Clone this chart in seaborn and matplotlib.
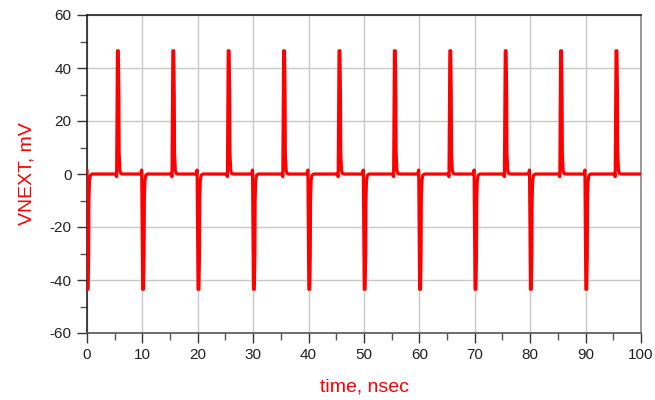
import numpy as np
import pandas as pd
import matplotlib
matplotlib.use("Agg")
import matplotlib.pyplot as plt
import seaborn as sns
from matplotlib.ticker import MultipleLocator

# Edge times (nsec)
fall_times = [0, 10, 20, 30, 40, 50, 60, 70, 80, 90]
rise_times = [5.5, 15.5, 25.5, 35.5, 45.5, 55.5, 65.5, 75.5, 85.5, 95.5]

# Pulse shapes (offset in nsec, value in mV)
fall_offsets = [-0.3, -0.12, 0.05, 0.2, 0.3, 0.35, 0.45, 0.6, 0.9]
fall_values = [0.0, 1.5, -43.5, -43.5, -31.0, -10.0, -2.5, -0.6, 0.0]
rise_offsets = [-0.35, -0.15, 0.0, 0.15, 0.25, 0.3, 0.45, 0.6, 0.9]
rise_values = [0.0, -1.0, 46.5, 46.5, 30.0, 8.0, 1.2, 0.3, 0.0]

t_end = 100

t_parts = [[0.0]]
v_parts = [[1.5]]
events = sorted([(t, "f") for t in fall_times] + [(t, "r") for t in rise_times])
for t0, kind in events:
    offs, vals = (fall_offsets, fall_values) if kind == "f" else (rise_offsets, rise_values)
    for o, v in zip(offs, vals):
        if t0 + o >= 0:
            t_parts.append([t0 + o])
            v_parts.append([v])
t_parts.append([t_end])
v_parts.append([0.0])
time = np.concatenate(t_parts)
vnext = np.concatenate(v_parts)
df = pd.DataFrame({"time": time, "VNEXT": vnext})

sns.set_style("white")
plt.rcParams["font.family"] = ["Liberation Sans", "DejaVu Sans"]
plt.rcParams["axes.unicode_minus"] = False

fig = plt.figure(figsize=(6.55, 4.0), dpi=100)
ax = fig.add_axes([0.1328, 0.1675, 0.8458, 0.795])

sns.lineplot(data=df, x="time", y="VNEXT", ax=ax, color="#ff0000",
             linewidth=2.3, sort=False, estimator=None, zorder=3)

ax.set_xlim(0, 100)
ax.set_ylim(-60, 60)
ax.xaxis.set_major_locator(MultipleLocator(10))
ax.xaxis.set_minor_locator(MultipleLocator(5))
ax.yaxis.set_major_locator(MultipleLocator(20))
ax.yaxis.set_minor_locator(MultipleLocator(10))
ax.grid(True, which="major", color="#c8c8c8", linewidth=1.0, zorder=0)

ax.tick_params(axis="both", which="major", direction="out", length=7, width=1.0,
               color="#333333", labelsize=11, labelcolor="#222222", pad=4)
ax.tick_params(axis="both", which="minor", direction="out", length=5, width=1.0,
               color="#555555")
ax.tick_params(axis="x", which="both", bottom=True)
ax.tick_params(axis="y", which="both", left=True)

for s in ["left", "top"]:
    ax.spines[s].set_color("#222222")
    ax.spines[s].set_linewidth(1.2)
ax.spines["bottom"].set_color("#555555")
ax.spines["bottom"].set_linewidth(1.2)
ax.spines["right"].set_color("#888888")
ax.spines["right"].set_linewidth(1.2)

ax.set_xlabel("time, nsec", color="#ff0000", fontsize=14, labelpad=12)
ax.set_ylabel("VNEXT, mV", color="#ff0000", fontsize=14, labelpad=10)

fig.savefig("out.png", dpi=100)
